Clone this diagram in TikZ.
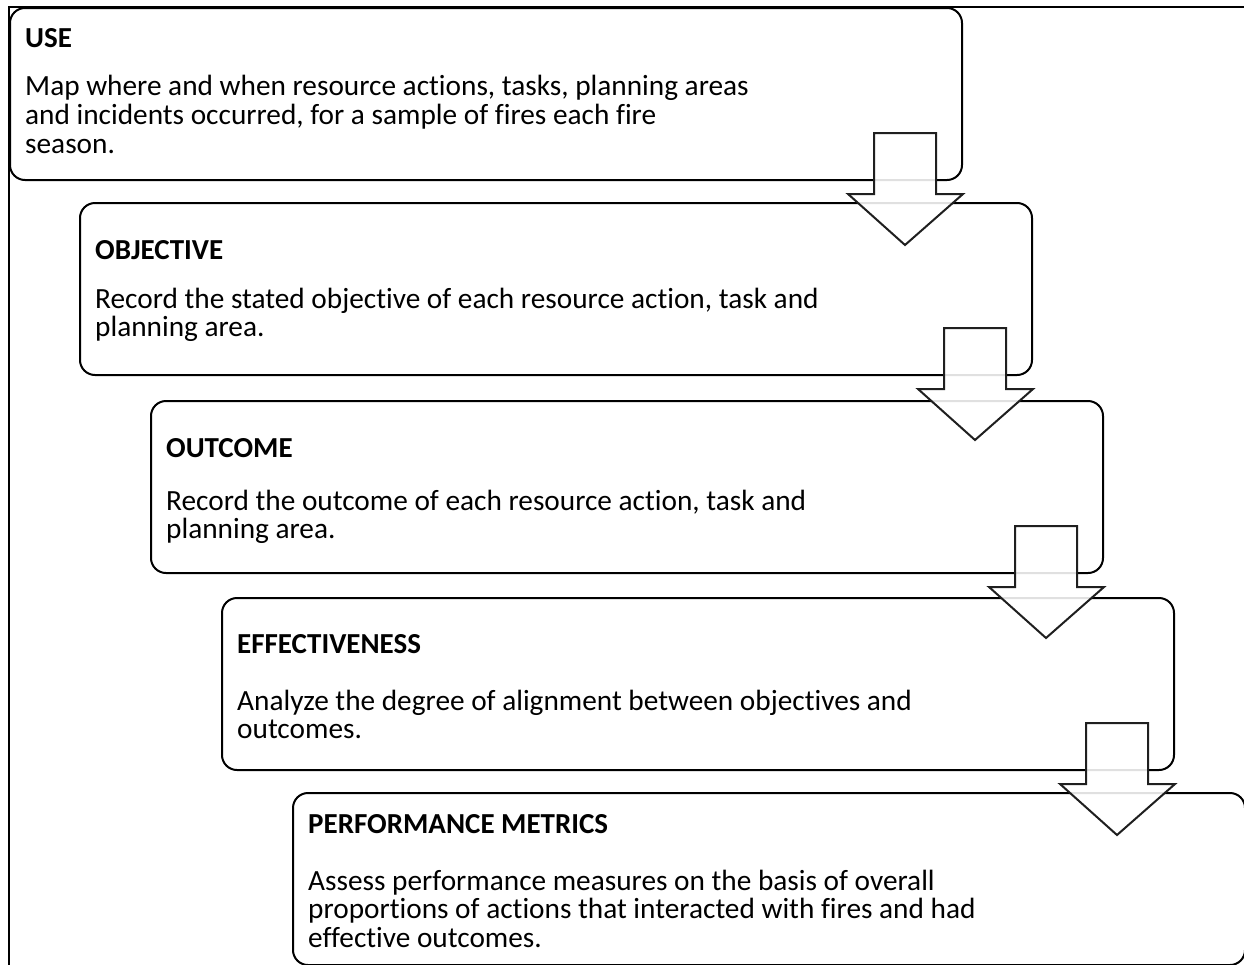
\documentclass[tikz,border=0pt]{standalone}
\usepackage{fontspec}
\setmainfont[Ligatures=NoCommon]{Carlito}
\usetikzlibrary{calc}
\begin{document}
\begin{tikzpicture}[x=1pt,y=-1pt,
  stage/.style={draw=black,line width=2pt,rounded corners=15pt,fill=white,
    minimum width=952pt,minimum height=172pt,inner sep=0pt,outer sep=0pt,anchor=north west},
  ttl/.style={anchor=base west,inner sep=0pt,font=\fontsize{29}{28.5}\selectfont\bfseries},
  txt/.style={anchor=base west,inner sep=0pt,font=\fontsize{29.3}{28.5}\selectfont},
  blockarrow/.style={draw=black!88,line width=2pt,fill=white,fill opacity=0.88,line join=miter},
  frameline/.style={draw=black,line width=2pt}
]
\useasboundingbox (0,0) rectangle (1244,964);
\clip (0,0) rectangle (1244,964);
\draw[frameline] (9,966) -- (9,7) -- (1246,7);

% boxes
\node[stage] (b1) at (10,8) {};
\node[stage] (b2) at (80,203) {};
\node[stage] (b3) at (151,401) {};
\node[stage] (b4) at (222,598) {};
\node[stage] (b5) at (293,793) {};

% texts
\node[ttl] (t1) at (25,47) {USE};
\node[txt] (t1a) at (25,95) {Map where and when resource actions, tasks, planning areas};
\node[txt] (t1b) at (25,124) {and incidents occurred, for a sample of fires each fire};
\node[txt] (t1c) at (25,153) {season.};

\node[ttl] (t2) at (95,259) {OBJECTIVE};
\node[txt] (t2a) at (95,308) {Record the stated objective of each resource action, task and};
\node[txt] (t2b) at (95,336) {planning area.};

\node[ttl] (t3) at (166,457) {OUTCOME};
\node[txt] (t3a) at (166,510) {Record the outcome of each resource action, task and};
\node[txt] (t3b) at (166,538) {planning area.};

\node[ttl] (t4) at (237,653) {EFFECTIVENESS};
\node[txt] (t4a) at (237,710) {Analyze the degree of alignment between objectives and};
\node[txt] (t4b) at (237,738) {outcomes.};

\node[ttl] (t5) at (308,833) {PERFORMANCE METRICS};
\node[txt] (t5a) at (308,890) {Assess performance measures on the basis of overall};
\node[txt] (t5b) at (308,918) {proportions of actions that interacted with fires and had};
\node[txt] (t5c) at (308,947) {effective outcomes.};

% block arrows
\foreach \b in {b1,b2,b3,b4}{
  \draw[blockarrow] ($(\b.south east)+(-88,-47)$) -- ($(\b.south east)+(-26,-47)$)
    -- ($(\b.south east)+(-26,14)$) -- ($(\b.south east)+(1,14)$)
    -- ($(\b.south east)+(-57,65)$) -- ($(\b.south east)+(-114,14)$)
    -- ($(\b.south east)+(-88,14)$) -- cycle;
}
\end{tikzpicture}
\end{document}
